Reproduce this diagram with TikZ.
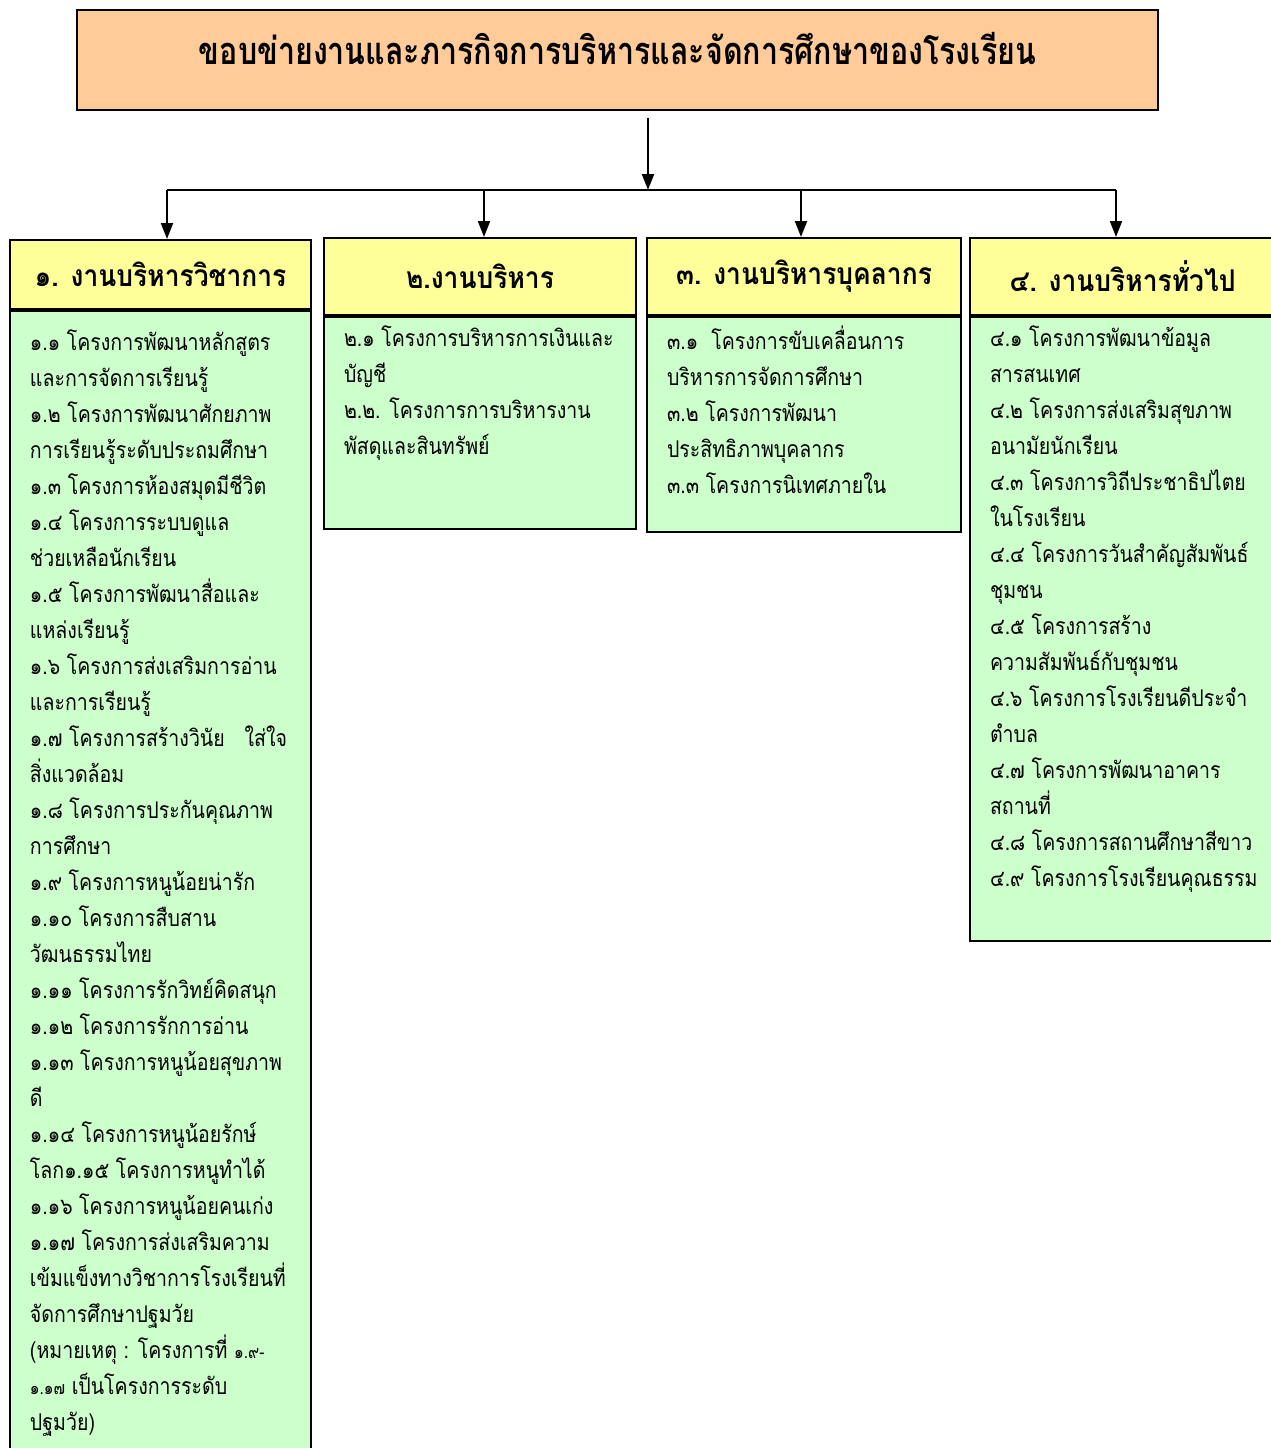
\documentclass[tikz,border=0pt]{standalone}
\usepackage{fontspec}
\newfontfamily\thaifont[Script=Thai, FakeStretch=0.85]{Loma}
\newfontfamily\thaihead[Script=Thai, FakeStretch=0.88]{Loma}
\newfontfamily\thaititle[Script=Thai, FakeStretch=0.8]{Loma}
\usepackage{xcolor}
\usetikzlibrary{arrows.meta}
\usetikzlibrary{positioning}
\definecolor{titlefill}{RGB}{255,204,153}
\definecolor{headfill}{RGB}{255,255,153}
\definecolor{bodyfill}{RGB}{204,255,204}
% fixed-height list, text from the top
\newcommand{\worklist}[3]{\parbox[t][#1][t]{#2}{\raggedright\fontsize{11.5}{18}\selectfont\rule{0pt}{10pt}#3}}
\newcommand{\notedigits}[1]{{\fontsize{9}{18}\selectfont #1}}

\begin{document}
\begin{tikzpicture}[x=0.5pt, y=-0.5pt, >={Triangle[length=8pt,width=6pt]}, line width=1pt, font=\thaifont,
  titlebox/.style={draw, fill=titlefill, inner sep=0pt, font=\thaititle\bfseries\fontsize{19}{21}\selectfont},
  headbox/.style={draw, fill=headfill, inner sep=0pt, font=\thaihead\bfseries\fontsize{15}{17}\selectfont},
  bodybox/.style={draw, fill=bodyfill, inner xsep=10pt, inner ysep=4.5pt, anchor=north}]
\useasboundingbox (0,0) rectangle (1271,1448);

\node[titlebox, minimum width=540.5pt, text height=27pt, text depth=23pt] (title) at (617.5,60) {ขอบข่ายงานและภารกิจการบริหารและจัดการศึกษาของโรงเรียน};

\node[headbox, minimum width=150.5pt, minimum height=34.5pt] (h1) at (160.5,274.5) {๑. งานบริหารวิชาการ};
\node[headbox, minimum width=156pt, minimum height=38.5pt] (h2) at (480,276.5) {๒.งานบริหาร};
\node[headbox, minimum width=157pt, minimum height=38.5pt] (h3) at (804,276.5) {๓. งานบริหารบุคลากร};
\node[headbox, minimum width=152.5pt, minimum height=38.5pt] (h4) at (1122.5,276.5) {๔. งานบริหารทั่วไป};

\node[bodybox, below=0pt of h1, inner ysep=9.5pt] (b1) {\worklist{560pt}{130.5pt}{%
๑.๑ โครงการพัฒนาหลักสูตร\\
และการจัดการเรียนรู้\\
๑.๒ โครงการพัฒนาศักยภาพ\\
การเรียนรู้ระดับประถมศึกษา\\
๑.๓ โครงการห้องสมุดมีชีวิต\\
๑.๔ โครงการระบบดูแล\\
ช่วยเหลือนักเรียน\\
๑.๕ โครงการพัฒนาสื่อและ\\
แหล่งเรียนรู้\\
๑.๖ โครงการส่งเสริมการอ่าน\\
และการเรียนรู้\\
๑.๗ โครงการสร้างวินัย\ \ \ ใส่ใจ\\
สิ่งแวดล้อม\\
๑.๘ โครงการประกันคุณภาพ\\
การศึกษา\\
๑.๙ โครงการหนูน้อยน่ารัก\\
๑.๑๐ โครงการสืบสาน\\
วัฒนธรรมไทย\\
๑.๑๑ โครงการรักวิทย์คิดสนุก\\
๑.๑๒ โครงการรักการอ่าน\\
๑.๑๓ โครงการหนูน้อยสุขภาพ\\
ดี\\
๑.๑๔ โครงการหนูน้อยรักษ์\\
โลก๑.๑๕ โครงการหนูทำได้\\
๑.๑๖ โครงการหนูน้อยคนเก่ง\\
๑.๑๗ โครงการส่งเสริมความ\\
เข้มแข็งทางวิชาการโรงเรียนที่\\
จัดการศึกษาปฐมวัย\\
(หมายเหตุ : โครงการที่ \notedigits{๑.๙-}\\
\notedigits{๑.๑๗} เป็นโครงการระดับ\\
ปฐมวัย)}};
\node[bodybox, below=0pt of h2] (b2) {\worklist{97pt}{136pt}{%
๒.๑ โครงการบริหารการเงินและ\\
บัญชี\\
๒.๒. โครงการการบริหารงาน\\
พัสดุและสินทรัพย์}};
\node[bodybox, below=0pt of h3] (b3) {\worklist{98.5pt}{137pt}{%
๓.๑\ \ โครงการขับเคลื่อนการ\\
บริหารการจัดการศึกษา\\
๓.๒ โครงการพัฒนา\\
ประสิทธิภาพบุคลากร\\
๓.๓ โครงการนิเทศภายใน}};
\node[bodybox, below=0pt of h4, xshift=2pt] (b4) {\worklist{303pt}{136.5pt}{%
๔.๑ โครงการพัฒนาข้อมูล\\
สารสนเทศ\\
๔.๒ โครงการส่งเสริมสุขภาพ\\
อนามัยนักเรียน\\
๔.๓ โครงการวิถีประชาธิปไตย\\
ในโรงเรียน\\
๔.๔ โครงการวันสำคัญสัมพันธ์\\
ชุมชน\\
๔.๕ โครงการสร้าง\\
ความสัมพันธ์กับชุมชน\\
๔.๖ โครงการโรงเรียนดีประจำ\\
ตำบล\\
๔.๗ โครงการพัฒนาอาคาร\\
สถานที่\\
๔.๘ โครงการสถานศึกษาสีขาว\\
๔.๙ โครงการโรงเรียนคุณธรรม}};

% connectors
\coordinate (start) at (648,118);
\coordinate (hub) at (648,190);
\coordinate (j1) at (167,190);
\coordinate (j2) at (484,190);
\coordinate (j3) at (801,190);
\coordinate (j4) at (1116,190);
\draw[->] (start) -- (hub);
\draw (j1) -- (j4);
\foreach \i in {1,...,4}
  \draw[->] (j\i) -- (j\i |- h\i.north);
\end{tikzpicture}
\end{document}
